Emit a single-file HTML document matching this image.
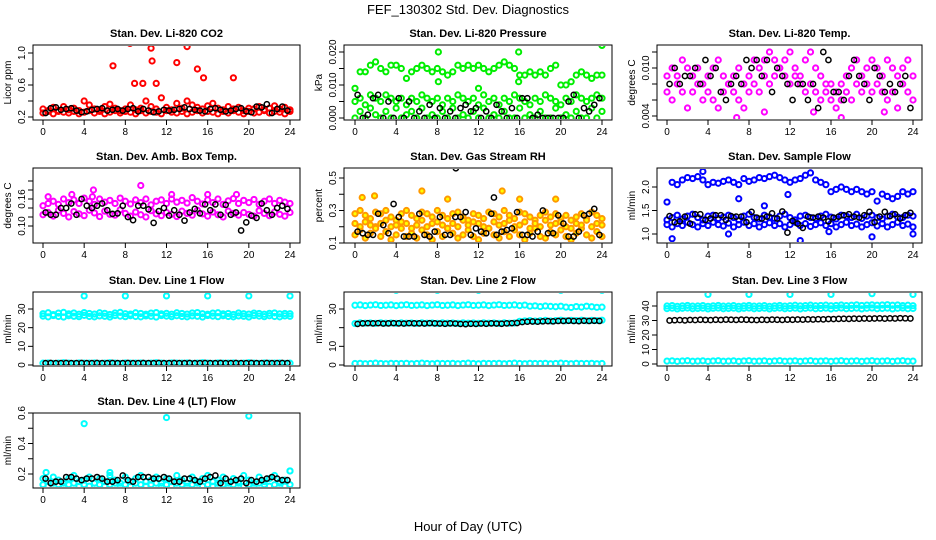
<!DOCTYPE html>
<html><head><meta charset="utf-8">
<style>
html,body{margin:0;padding:0;background:#fff;}
svg{display:block;font-family:"Liberation Sans",sans-serif;}
</style></head>
<body>
<svg id="c" width="936" height="540" viewBox="0 0 936 540">
<text x="468" y="14" text-anchor="middle" font-size="13">FEF_130302  Std. Dev. Diagnostics</text>
<text x="468" y="531" text-anchor="middle" font-size="13">Hour of Day (UTC)</text>
</svg>
<script>
// ---------- data ----------
const xTicks = [0,4,8,12,16,20,24];
const co2Red1 = [0.30,0.28,0.32,0.27,0.33,0.29,0.31,0.28,0.40,0.35,0.30,0.29,0.33,0.36,0.31,0.28,0.30,0.35,0.29,0.31,0.40,0.33,0.30,0.44,0.32,0.29,0.37,0.31,0.40,0.35,0.32,0.30,0.34,0.37,0.31,0.29,0.33,0.30,0.32,0.28,0.31,0.30,0.33,0.29,0.31,0.34,0.30,0.32,0.29];
const co2Red2 = [0.25,0.27,0.24,0.28,0.26,0.25,0.27,0.24,0.26,0.28,0.25,0.27,0.24,0.26,0.28,0.25,0.27,0.26,0.24,0.28,0.25,0.27,0.26,0.24,0.28,0.26,0.25,0.27,0.24,0.26,0.28,0.25,0.27,0.26,0.24,0.27,0.25,0.28,0.26,0.24,0.27,0.25,0.26,0.28,0.25,0.27,0.26,0.24,0.27];
const co2OutHours = [6.8,8.45,8.9,9.7,10.5,10.6,11.0,13.0,14.0,15.0,15.6,18.5];
const co2OutVals = [0.84,1.12,0.62,0.62,1.06,0.90,0.62,0.88,1.08,0.80,0.69,0.69];
const co2Black = [0.25,0.31,0.32,0.29,0.30,0.31,0.28,0.26,0.27,0.29,0.30,0.31,0.28,0.29,0.30,0.28,0.30,0.31,0.27,0.30,0.28,0.26,0.27,0.29,0.28,0.29,0.30,0.32,0.30,0.29,0.28,0.27,0.30,0.31,0.29,0.27,0.28,0.30,0.31,0.27,0.26,0.33,0.32,0.36,0.25,0.30,0.33,0.28];

const presUpper = [0.009,0.014,0.014,0.016,0.017,0.015,0.014,0.016,0.016,0.015,0.012,0.014,0.015,0.016,0.015,0.014,0.015,0.014,0.013,0.014,0.016,0.015,0.016,0.015,0.016,0.015,0.014,0.015,0.016,0.017,0.016,0.015,0.013,0.013,0.014,0.013,0.014,0.013,0.015,0.016,0.010,0.010,0.011,0.013,0.014,0.013,0.012,0.013,0.013];
const presLow1 = [0.005,0.006,0.004,0.007,0.006,0.005,0.007,0.006,0.005,0.006,0.004,0.006,0.005,0.007,0.006,0.005,0.006,0.004,0.006,0.005,0.007,0.006,0.005,0.006,0.004,0.007,0.005,0.006,0.004,0.006,0.005,0.007,0.006,0.005,0.004,0.006,0.005,0.007,0.006,0.005,0.004,0.006,0.005,0.007,0.006,0.005,0.006,0.007,0.006];
const presLow2 = [0.000,0.002,0.000,0.003,0.001,0.000,0.002,0.000,0.003,0.000,0.001,0.002,0.000,0.003,0.000,0.001,0.000,0.002,0.000,0.003,0.000,0.001,0.000,0.002,0.000,0.003,0.000,0.001,0.000,0.002,0.000,0.000,0.003,0.000,0.001,0.000,0.002,0.000,0.000,0.003,0.000,0.001,0.000,0.002,0.000,0.000,0.003,0.000,0.002];
const presOutHours = [8.1,15.9,24.0,8.1,15.9,12.0];
const presOutVals = [0.020,0.020,0.022,0.011,0.011,0.009];
const presBlack = [0.007,0.000,0.001,0.006,0.007,0.000,0.005,0.000,0.006,0.000,0.005,0.000,0.002,0.000,0.004,0.000,0.003,0.000,0.002,0.000,0.003,0.004,0.002,0.003,0.000,0.002,0.000,0.004,0.002,0.000,0.003,0.000,0.006,0.006,0.000,0.001,0.000,0.000,0.000,0.000,0.000,0.005,0.007,0.000,0.003,0.002,0.004,0.006];

const tempMag1 = [0.009,0.010,0.009,0.011,0.010,0.009,0.010,0.008,0.009,0.010,0.011,0.009,0.008,0.009,0.010,0.008,0.009,0.011,0.010,0.011,0.012,0.011,0.010,0.011,0.012,0.010,0.009,0.011,0.012,0.010,0.009,0.008,0.008,0.007,0.008,0.009,0.010,0.011,0.009,0.010,0.011,0.010,0.009,0.011,0.010,0.009,0.010,0.011,0.009];
const tempMag2 = [0.007,0.006,0.008,0.007,0.005,0.007,0.008,0.006,0.007,0.006,0.005,0.007,0.008,0.007,0.006,0.005,0.007,0.008,0.007,0.009,0.008,0.009,0.010,0.009,0.008,0.009,0.008,0.007,0.008,0.007,0.006,0.007,0.006,0.005,0.006,0.007,0.006,0.008,0.007,0.008,0.007,0.008,0.007,0.006,0.007,0.005,0.008,0.007,0.006];
const tempOutHours = [6.8,9.5,14.3,17.0,21.2];
const tempOutVals = [0.0038,0.0045,0.0045,0.0038,0.0045];
const tempBlack = [0.008,0.010,0.008,0.009,0.009,0.010,0.008,0.011,0.009,0.010,0.007,0.006,0.008,0.009,0.008,0.011,0.010,0.011,0.009,0.011,0.007,0.010,0.009,0.008,0.006,0.008,0.008,0.006,0.008,0.005,0.012,0.011,0.007,0.007,0.006,0.009,0.011,0.009,0.008,0.006,0.010,0.009,0.007,0.008,0.007,0.008,0.009,0.005];

const ambMag1 = [0.145,0.150,0.155,0.148,0.160,0.152,0.158,0.150,0.162,0.155,0.148,0.160,0.153,0.157,0.150,0.162,0.155,0.149,0.158,0.152,0.160,0.147,0.155,0.158,0.150,0.160,0.153,0.157,0.151,0.163,0.155,0.149,0.158,0.152,0.160,0.148,0.156,0.161,0.150,0.157,0.152,0.159,0.148,0.155,0.160,0.150,0.157,0.153,0.150];
const ambMag2 = [0.125,0.130,0.122,0.135,0.128,0.120,0.132,0.127,0.123,0.135,0.129,0.121,0.133,0.126,0.124,0.136,0.128,0.122,0.131,0.125,0.120,0.134,0.127,0.123,0.130,0.126,0.121,0.133,0.128,0.124,0.135,0.127,0.122,0.131,0.125,0.120,0.133,0.128,0.124,0.130,0.126,0.122,0.134,0.128,0.123,0.131,0.126,0.122,0.130];
const ambOutHours = [9.5,4.9,2.8,16.0,12.5,18.8,4.8,0.5];
const ambOutVals = [0.19,0.18,0.17,0.17,0.17,0.17,0.165,0.165];
const ambBlack = [0.130,0.125,0.125,0.140,0.140,0.150,0.125,0.160,0.145,0.140,0.145,0.150,0.135,0.127,0.128,0.145,0.120,0.113,0.145,0.145,0.137,0.107,0.133,0.140,0.123,0.135,0.125,0.112,0.130,0.138,0.128,0.148,0.135,0.148,0.125,0.147,0.125,0.130,0.090,0.108,0.123,0.118,0.150,0.135,0.125,0.140,0.145,0.138];

const rhOr1 = [0.28,0.30,0.27,0.25,0.29,0.28,0.30,0.26,0.24,0.28,0.30,0.27,0.25,0.29,0.28,0.26,0.30,0.27,0.25,0.28,0.29,0.26,0.24,0.28,0.27,0.25,0.29,0.28,0.26,0.30,0.27,0.25,0.29,0.28,0.26,0.24,0.27,0.29,0.26,0.28,0.25,0.27,0.24,0.26,0.28,0.25,0.29,0.27,0.25];
const rhOr2 = [0.15,0.18,0.13,0.16,0.20,0.14,0.17,0.12,0.15,0.19,0.14,0.16,0.13,0.18,0.15,0.12,0.17,0.14,0.19,0.16,0.13,0.15,0.18,0.14,0.12,0.16,0.19,0.15,0.13,0.17,0.14,0.18,0.15,0.12,0.16,0.19,0.14,0.13,0.17,0.15,0.18,0.14,0.12,0.16,0.19,0.15,0.13,0.17,0.14];
const rhOr3 = [0.22,0.20,0.23,0.21,0.19,0.22,0.24,0.20,0.21,0.23,0.22,0.19,0.21,0.24,0.20,0.22,0.23,0.21,0.19,0.22,0.20,0.24,0.21,0.23,0.22,0.20,0.19,0.23,0.21,0.22,0.24,0.20,0.21,0.23,0.19,0.22,0.20,0.24,0.21,0.22,0.23,0.20,0.19,0.22,0.21,0.24,0.20,0.22,0.21];
const rhOutHours = [0.7,1.9,6.5,14.3,16.0,19.5,9.0];
const rhOutVals = [0.38,0.39,0.42,0.42,0.37,0.37,0.37];
const rhBlackOutHours = [9.8,13.5];
const rhBlackOutVals = [0.56,0.38];
const rhBlack = [0.17,0.16,0.15,0.15,0.28,0.21,0.16,0.34,0.26,0.14,0.14,0.14,0.28,0.15,0.14,0.17,0.26,0.15,0.15,0.26,0.26,0.29,0.15,0.19,0.17,0.16,0.28,0.15,0.17,0.18,0.19,0.29,0.15,0.15,0.14,0.17,0.30,0.16,0.16,0.27,0.22,0.14,0.14,0.17,0.27,0.28,0.31,0.15];

const flowUpper = [1.68,2.10,2.05,2.15,2.20,2.18,2.22,2.15,2.05,2.10,2.08,2.12,2.15,2.10,2.05,2.18,2.12,2.15,2.20,2.18,2.22,2.25,2.20,2.15,2.10,2.15,2.18,2.25,2.30,2.15,2.10,2.05,1.90,1.95,2.00,1.95,1.90,1.95,1.90,1.85,1.90,1.70,1.85,1.80,1.75,1.80,1.90,1.85,1.90];
const flowLow1 = [1.30,1.35,1.40,1.32,1.38,1.42,1.35,1.30,1.38,1.40,1.33,1.36,1.40,1.35,1.30,1.38,1.42,1.35,1.32,1.40,1.36,1.33,1.38,1.42,1.35,1.30,1.38,1.40,1.35,1.33,1.38,1.42,1.36,1.32,1.40,1.38,1.35,1.42,1.33,1.38,1.40,1.35,1.32,1.38,1.42,1.36,1.35,1.40,1.38];
const flowLow2 = [1.20,1.15,1.22,1.18,1.25,1.20,1.15,1.22,1.18,1.25,1.20,1.17,1.23,1.15,1.20,1.25,1.18,1.22,1.15,1.20,1.24,1.18,1.22,1.15,1.20,1.25,1.18,1.22,1.16,1.20,1.24,1.18,1.22,1.15,1.20,1.25,1.18,1.21,1.15,1.20,1.24,1.17,1.22,1.15,1.20,1.25,1.18,1.21,1.15];
const flowOutHours = [0.5,13.0,20.0,24.0,6.0,3.5,7.0,9.5,11.8,15.8];
const flowOutVals = [0.90,0.86,0.94,1.00,1.00,2.33,1.75,1.60,1.84,1.05];
const flowBlack = [1.38,1.25,1.27,1.37,1.22,1.42,1.42,1.30,1.33,1.40,1.40,1.30,1.38,1.37,1.37,1.25,1.47,1.35,1.33,1.37,1.44,1.33,1.48,1.03,1.28,1.22,1.13,1.37,1.35,1.37,1.35,1.27,1.35,1.37,1.40,1.42,1.37,1.35,1.40,1.47,1.25,1.37,1.47,1.38,1.42,1.33,1.40,1.45];

const l1CyanHi = [27.5,28.0,27.0,27.8,28.2,27.4,27.9,27.2,28.1,27.6,27.3,28.0,27.7,27.1,27.9,28.2,27.5,27.3,28.0,27.6,27.2,27.8,28.1,27.4,27.7,27.2,28.0,27.6,27.3,27.9,28.1,27.5,27.2,27.8,28.0,27.4,27.6,27.1,27.9,27.5,27.3,27.8,27.6,27.2,27.7,27.9,27.4,27.6,27.5];
const l1CyanLo = [26.2,25.8,26.5,26.0,25.7,26.4,26.1,25.9,26.6,26.0,25.8,26.3,26.1,25.7,26.5,26.2,25.9,26.4,26.0,25.8,26.3,26.1,25.7,26.5,26.2,25.9,26.4,26.0,25.8,26.3,26.1,25.7,26.5,26.2,25.9,26.4,26.0,25.8,26.3,26.1,25.7,26.5,26.2,25.9,26.4,26.0,25.8,26.3,26.1];
const l1CyanZero = [1.0,1.1,0.9,1.0,1.2,1.0,0.9,1.1,1.0,1.0,1.1,0.9,1.0,1.2,1.0,0.9,1.1,1.0,1.0,1.1,0.9,1.0,1.2,1.0,0.9,1.1,1.0,1.0,1.1,0.9,1.0,1.2,1.0,0.9,1.1,1.0,1.0,1.1,0.9,1.0,1.2,1.0,0.9,1.1,1.0,1.0,1.1,0.9,1.0];
const l1OutHours = [4,8,12,16,20,24];
const l1OutVals = [37,37,37,37,37,37];
const l1Black = [1.0,1.1,1.0,1.0,1.1,1.0,1.0,1.1,1.0,1.0,1.1,1.0,1.0,1.1,1.0,1.0,1.1,1.0,1.0,1.1,1.0,1.0,1.1,1.0,1.0,1.1,1.0,1.0,1.1,1.0,1.0,1.1,1.0,1.0,1.1,1.0,1.0,1.1,1.0,1.0,1.1,1.0,1.0,1.1,1.0,1.0,1.1,1.0];

const l2CyanHi = [32.0,32.2,31.8,32.1,32.3,31.9,32.0,32.2,31.8,32.1,32.3,31.9,32.0,32.2,31.8,32.1,32.3,31.9,32.0,32.2,31.8,32.1,32.3,31.9,32.0,32.2,31.8,32.1,32.3,31.9,32.0,32.2,31.8,32.1,31.5,31.7,31.3,31.6,31.4,31.2,31.5,31.0,30.8,31.3,31.0,31.5,31.2,30.9,31.0];
const l2CyanMid = [22.2,22.6,22.4,22.5,22.3,22.6,22.4,22.5,22.3,22.6,22.4,22.5,22.3,22.6,22.4,22.5,22.3,22.6,22.4,22.5,22.3,22.6,22.4,22.5,22.3,22.6,22.4,22.5,22.3,22.6,22.4,22.5,23.4,23.6,23.8,23.5,23.7,23.9,23.6,23.8,24.0,23.7,23.9,23.8,24.0,23.7,23.9,23.8,24.0];
const l2CyanZero = [0.8,0.9,0.7,0.8,1.0,0.8,0.7,0.9,0.8,0.8,0.9,0.7,0.8,1.0,0.8,0.7,0.9,0.8,0.8,0.9,0.7,0.8,1.0,0.8,0.7,0.9,0.8,0.8,0.9,0.7,0.8,1.0,0.8,0.7,0.9,0.8,0.8,0.9,0.7,0.8,1.0,0.8,0.7,0.9,0.8,0.8,0.9,0.7,0.8];
const l2OutHours = [4,8,12,16,20,24];
const l2OutVals = [40,40,40,40.5,40,40];
const l2Black = [22.0,22.3,22.4,22.3,22.4,22.2,22.3,22.4,22.3,22.2,22.4,22.3,22.3,22.2,22.4,22.3,22.2,22.1,22.3,22.2,22.0,21.9,22.1,22.0,22.2,22.1,22.3,22.2,22.1,22.3,22.4,22.5,23.0,23.2,23.3,23.2,23.4,23.5,23.4,23.6,23.6,23.7,23.6,23.5,23.7,23.6,23.7,23.6];

const l3CyanHi = [40.0,40.3,39.8,40.1,40.4,39.9,40.0,40.3,39.8,40.1,40.4,39.9,40.0,40.3,39.8,40.1,40.4,39.9,40.0,40.3,39.8,40.1,40.4,39.9,40.2,40.5,40.1,40.3,40.6,40.2,40.4,40.6,40.2,40.4,40.7,40.3,40.5,40.8,40.4,40.6,40.8,40.5,40.7,40.9,40.5,40.7,40.3,40.5,40.2];
const l3CyanLo = [38.2,38.5,38.0,38.4,38.6,38.1,38.3,38.5,38.0,38.4,38.6,38.1,38.3,38.5,38.0,38.4,38.6,38.1,38.3,38.5,38.0,38.4,38.6,38.1,38.3,38.5,38.0,38.4,38.6,38.1,38.3,38.5,38.0,38.4,38.6,38.1,38.3,38.5,38.0,38.4,38.6,38.1,38.3,38.5,38.0,38.4,38.6,38.1,38.3];
const l3CyanZero = [2.0,2.2,1.8,2.1,2.3,1.9,2.0,2.2,1.8,2.1,2.3,1.9,2.0,2.2,1.8,2.1,2.3,1.9,2.0,2.2,1.8,2.1,2.3,1.9,2.0,2.2,1.8,2.1,2.3,1.9,2.0,2.2,1.8,2.1,2.3,1.9,2.0,2.2,1.8,2.1,2.3,1.9,2.0,2.2,1.8,2.1,2.3,1.9,2.0];
const l3OutHours = [4,8,12,16,20,24];
const l3OutVals = [48,48,48,48,48.5,48];
const l3Black = [30.0,30.2,30.3,30.1,30.4,30.3,30.5,30.4,30.3,30.5,30.4,30.6,30.5,30.4,30.6,30.5,30.4,30.3,30.5,30.4,30.6,30.5,30.4,30.6,30.5,30.7,30.6,30.8,30.7,30.9,30.8,31.0,31.0,31.1,31.2,31.1,31.3,31.2,31.4,31.3,31.4,31.5,31.3,31.5,31.4,31.6,31.5,31.4];

const l4Cyan1 = [0.17,0.15,0.18,0.16,0.14,0.17,0.19,0.15,0.16,0.18,0.14,0.17,0.15,0.19,0.16,0.14,0.18,0.15,0.17,0.19,0.15,0.16,0.18,0.14,0.17,0.15,0.19,0.16,0.14,0.18,0.15,0.17,0.19,0.15,0.16,0.18,0.14,0.17,0.15,0.19,0.16,0.14,0.18,0.15,0.17,0.19,0.15,0.16,0.22];
const l4Cyan2 = [0.13,0.12,0.14,0.13,0.12,0.13,0.14,0.12,0.13,0.12,0.14,0.13,0.12,0.13,0.14,0.12,0.13,0.12,0.14,0.13,0.12,0.13,0.14,0.12,0.13,0.12,0.14,0.13,0.12,0.13,0.14,0.12,0.13,0.12,0.14,0.13,0.12,0.13,0.14,0.12,0.13,0.12,0.14,0.13,0.12,0.13,0.14,0.12,0.13];
const l4OutHours = [4,12,20,24,0.3,6.5];
const l4OutVals = [0.53,0.57,0.58,0.22,0.21,0.21];
const l4Black = [0.17,0.14,0.15,0.15,0.18,0.18,0.17,0.16,0.17,0.17,0.18,0.17,0.15,0.15,0.16,0.19,0.16,0.15,0.18,0.18,0.18,0.17,0.17,0.18,0.17,0.15,0.15,0.17,0.17,0.16,0.15,0.17,0.18,0.19,0.14,0.17,0.15,0.16,0.17,0.14,0.16,0.15,0.16,0.17,0.18,0.17,0.16,0.16];

// ---------- drawing ----------
const svg = document.getElementById('c');
const NS = 'http://www.w3.org/2000/svg';
function mk(tag, attrs, parent){
  const e = document.createElementNS(NS, tag);
  for (const k in attrs) e.setAttribute(k, attrs[k]);
  (parent||svg).appendChild(e);
  return e;
}
const cols = [{x0:43,x24:290,L:33,R:300},{x0:355,x24:602,L:344,R:612},{x0:667,x24:913,L:657,R:922}];
const rows = [{T:45,B:120},{T:168,B:243},{T:292,B:366},{T:413,B:488}];

const hGrid = []; for (let i=0;i<49;i++) hGrid.push(i*0.5);
const hBlack = []; for (let i=0;i<48;i++) hBlack.push(0.25+i*0.5);

function panel(cfg){
  const c = cols[cfg.col], r = rows[cfg.row];
  const g = mk('g', {});
  
  
  const xs = h => c.x0 + (c.x24 - c.x0) * h / 24;
  const ys = v => cfg.p0 + (cfg.p1 - cfg.p0) * (v - cfg.v0) / (cfg.v1 - cfg.v0);
  const t = mk('text', {x:(c.L+c.R)/2, y:r.T-8, 'text-anchor':'middle', 'font-size':11, 'font-weight':'bold'}, g);
  t.textContent = cfg.title;
  
  
  const clip = 'clip' + cfg.col + cfg.row;
  const cp = mk('clipPath', {id:clip}, g);
  mk('rect', {x:c.L+1, y:r.T+1, width:c.R-c.L-2, height:r.B-r.T-2}, cp);
  const sg = mk('g', {'clip-path':'url(#'+clip+')'}, g);
  cfg.series.forEach(s => {
    const sw = s.color === '#000000' ? 1.5 : 2;
    const sgr = mk('g', {fill: s.fill||'none', stroke:s.color, 'stroke-width':sw}, sg);
    
    
    s.vals.forEach((v,i) => {
      const pt = mk('circle', {cx:xs(s.hours[i]), cy:ys(v), r:2.6}, sgr);
      
      
    });
  });
  const box = mk('rect', {x:c.L, y:r.T, width:c.R-c.L, height:r.B-r.T, fill:'none', stroke:'#000', 'stroke-width':1}, g);
  
  
  const xa = mk('g', {stroke:'#000','stroke-width':1}, g);
  
  
  xTicks.forEach(tv => {
    mk('line', {x1:xs(tv), x2:xs(tv), y1:r.B, y2:r.B+5}, xa);
    const tl = mk('text', {x:xs(tv), y:r.B+15, 'text-anchor':'middle', 'font-size':10, stroke:'none', fill:'#000'}, xa);
    tl.textContent = tv;
    
    
  });
  const ya = mk('g', {stroke:'#000','stroke-width':1}, g);
  
  
  cfg.yTicks.forEach((tv,i) => {
    const y = ys(tv);
    mk('line', {x1:c.L-5, x2:c.L, y1:y, y2:y}, ya);
    if (cfg.yLabels[i]) {
      const tl = mk('text', {x:c.L-8, y:y, 'text-anchor':'middle', 'font-size':10, stroke:'none', fill:'#000', transform:'rotate(-90 '+(c.L-8)+' '+y+')'}, ya);
      tl.textContent = cfg.yLabels[i];
      
      
    }
  });
  const yt = mk('text', {x:c.L-22, y:(r.T+r.B)/2, 'text-anchor':'middle', 'font-size':10, transform:'rotate(-90 '+(c.L-22)+' '+(r.T+r.B)/2+')'}, g);
  yt.textContent = cfg.yTitle;
  
  
}

const RED='#ff0000', BLK='#000000', GRN='#00ee00', MAG='#ff00ff', ORG='#ff9900', BLU='#0000ff', CYN='#00ffff';

panel({col:0,row:0,name:'panel-co2',title:'Stan. Dev. Li-820 CO2',yTitle:'Licor ppm',v0:0.2,p0:117,v1:1.0,p1:53,
  yTicks:[0.2,0.4,0.6,0.8,1.0],yLabels:['0.2','','0.6','','1.0'],
  series:[{name:'co2-series-a',color:RED,hours:hGrid,vals:co2Red1},{name:'co2-series-b',color:RED,hours:hGrid,vals:co2Red2},
    {name:'co2-outliers',color:RED,hours:co2OutHours,vals:co2OutVals},{name:'co2-hourly-black',color:BLK,hours:hBlack,vals:co2Black}]});
panel({col:1,row:0,name:'panel-pressure',title:'Stan. Dev. Li-820 Pressure',yTitle:'kPa',v0:0,p0:118,v1:0.02,p1:52,
  yTicks:[0,0.005,0.010,0.015,0.020],yLabels:['0.000','','0.010','','0.020'],
  series:[{name:'pressure-upper',color:GRN,hours:hGrid,vals:presUpper},{name:'pressure-low-a',color:GRN,hours:hGrid,vals:presLow1},
    {name:'pressure-low-b',color:GRN,hours:hGrid,vals:presLow2},{name:'pressure-outliers',color:GRN,hours:presOutHours,vals:presOutVals},
    {name:'pressure-hourly-black',color:BLK,hours:hBlack,vals:presBlack}]});
panel({col:2,row:0,name:'panel-temp',title:'Stan. Dev. Li-820 Temp.',yTitle:'degrees C',v0:0.004,p0:116,v1:0.010,p1:68,
  yTicks:[0.004,0.006,0.008,0.010,0.012],yLabels:['0.004','','','0.010',''],
  series:[{name:'temp-series-a',color:MAG,hours:hGrid,vals:tempMag1},{name:'temp-series-b',color:MAG,hours:hGrid,vals:tempMag2},
    {name:'temp-outliers',color:MAG,hours:tempOutHours,vals:tempOutVals},{name:'temp-hourly-black',color:BLK,hours:hBlack,vals:tempBlack}]});
panel({col:0,row:1,name:'panel-amb-box',title:'Stan. Dev. Amb. Box Temp.',yTitle:'degrees C',v0:0.10,p0:226,v1:0.16,p1:199,
  yTicks:[0.10,0.12,0.14,0.16,0.18,0.20],yLabels:['0.10','','','0.16','',''],
  series:[{name:'amb-series-a',color:MAG,hours:hGrid,vals:ambMag1},{name:'amb-series-b',color:MAG,hours:hGrid,vals:ambMag2},
    {name:'amb-outliers',color:MAG,hours:ambOutHours,vals:ambOutVals},{name:'amb-hourly-black',color:BLK,hours:hBlack,vals:ambBlack}]});
panel({col:1,row:1,name:'panel-rh',title:'Stan. Dev. Gas Stream RH',yTitle:'percent',v0:0.1,p0:243,v1:0.5,p1:178,
  yTicks:[0.1,0.2,0.3,0.4,0.5],yLabels:['0.1','','0.3','','0.5'],
  series:[{name:'rh-series-a',color:ORG,fill:'#ffff00',hours:hGrid,vals:rhOr1},{name:'rh-series-b',color:ORG,fill:'#ffff00',hours:hGrid,vals:rhOr2},
    {name:'rh-series-c',color:ORG,fill:'#ffff00',hours:hGrid,vals:rhOr3},{name:'rh-outliers',color:ORG,fill:'#ffff00',hours:rhOutHours,vals:rhOutVals},
    {name:'rh-black-outliers',color:BLK,hours:rhBlackOutHours,vals:rhBlackOutVals},{name:'rh-hourly-black',color:BLK,hours:hBlack,vals:rhBlack}]});
panel({col:2,row:1,name:'panel-sample-flow',title:'Stan. Dev. Sample Flow',yTitle:'ml/min',v0:1.0,p0:234,v1:2.0,p1:187,
  yTicks:[1.0,1.5,2.0],yLabels:['1.0','1.5','2.0'],
  series:[{name:'flow-upper',color:BLU,hours:hGrid,vals:flowUpper},{name:'flow-low-a',color:BLU,hours:hGrid,vals:flowLow1},
    {name:'flow-low-b',color:BLU,hours:hGrid,vals:flowLow2},{name:'flow-outliers',color:BLU,hours:flowOutHours,vals:flowOutVals},
    {name:'flow-hourly-black',color:BLK,hours:hBlack,vals:flowBlack}]});
panel({col:0,row:2,name:'panel-line1',title:'Stan. Dev. Line 1 Flow',yTitle:'ml/min',v0:0,p0:365,v1:30,p1:309,
  yTicks:[0,10,20,30],yLabels:['0','10','20','30'],
  series:[{name:'line1-hi',color:CYN,hours:hGrid,vals:l1CyanHi},{name:'line1-lo',color:CYN,hours:hGrid,vals:l1CyanLo},
    {name:'line1-zero',color:CYN,hours:hGrid,vals:l1CyanZero},{name:'line1-outliers',color:CYN,hours:l1OutHours,vals:l1OutVals},
    {name:'line1-hourly-black',color:BLK,hours:hBlack,vals:l1Black}]});
panel({col:1,row:2,name:'panel-line2',title:'Stan. Dev. Line 2 Flow',yTitle:'ml/min',v0:0,p0:365,v1:30,p1:309,
  yTicks:[0,10,20,30],yLabels:['0','10','','30'],
  series:[{name:'line2-hi',color:CYN,hours:hGrid,vals:l2CyanHi},{name:'line2-mid',color:CYN,hours:hGrid,vals:l2CyanMid},
    {name:'line2-zero',color:CYN,hours:hGrid,vals:l2CyanZero},{name:'line2-outliers',color:CYN,hours:l2OutHours,vals:l2OutVals},
    {name:'line2-hourly-black',color:BLK,hours:hBlack,vals:l2Black}]});
panel({col:2,row:2,name:'panel-line3',title:'Stan. Dev. Line 3 Flow',yTitle:'ml/min',v0:0,p0:364,v1:40,p1:306,
  yTicks:[0,10,20,30,40],yLabels:['0','10','20','30','40'],
  series:[{name:'line3-hi',color:CYN,hours:hGrid,vals:l3CyanHi},{name:'line3-lo',color:CYN,hours:hGrid,vals:l3CyanLo},
    {name:'line3-zero',color:CYN,hours:hGrid,vals:l3CyanZero},{name:'line3-outliers',color:CYN,hours:l3OutHours,vals:l3OutVals},
    {name:'line3-hourly-black',color:BLK,hours:hBlack,vals:l3Black}]});
panel({col:0,row:3,name:'panel-line4',title:'Stan. Dev. Line 4 (LT) Flow',yTitle:'ml/min',v0:0.2,p0:474,v1:0.6,p1:413,
  yTicks:[0.2,0.3,0.4,0.5,0.6],yLabels:['0.2','','0.4','','0.6'],
  series:[{name:'line4-a',color:CYN,hours:hGrid,vals:l4Cyan1},{name:'line4-b',color:CYN,hours:hGrid,vals:l4Cyan2},
    {name:'line4-outliers',color:CYN,hours:l4OutHours,vals:l4OutVals},{name:'line4-hourly-black',color:BLK,hours:hBlack,vals:l4Black}]});
</script>
</body></html>
